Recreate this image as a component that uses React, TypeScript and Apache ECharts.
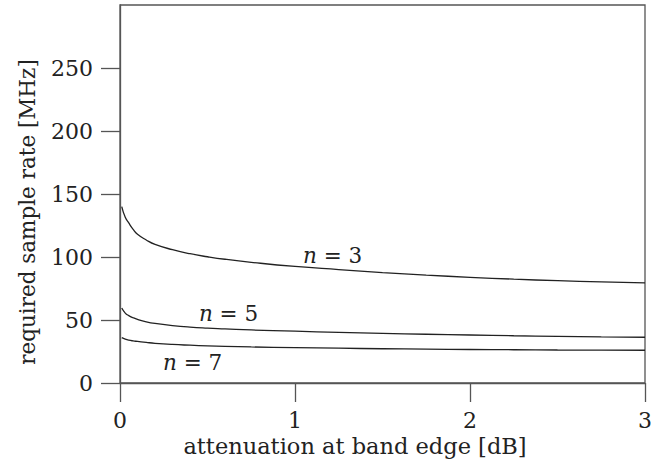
import React, { useEffect, useRef } from "react";
import * as echarts from "echarts";

// attenuation at band edge [dB]
const attenuation = [0.01, 0.03, 0.05, 0.075, 0.1, 0.15, 0.2, 0.3, 0.4, 0.5, 0.6, 0.75, 1.0, 1.25, 1.5, 1.75, 2.0, 2.25, 2.5, 2.75, 3.0];

// required sample rate [MHz] per filter order
const rateN3 = [140, 131.5, 127, 122, 118, 113.5, 110, 105.8, 102.6, 100.2, 98.2, 95.8, 92.5, 90, 87.6, 85.6, 83.9, 82.4, 81.2, 80.2, 79.5];
const rateN5 = [59.5, 55.5, 53.5, 51.8, 50.5, 48.6, 47.3, 45.6, 44.4, 43.6, 43, 42.1, 41.1, 40.2, 39.4, 38.7, 38.1, 37.5, 37, 36.6, 36.3];
const rateN7 = [36, 34.8, 34, 33.4, 33, 32.2, 31.5, 30.6, 30, 29.5, 29.1, 28.6, 28.1, 27.6, 27.2, 26.9, 26.6, 26.4, 26.2, 26.1, 26];

// curve label anchors [x, y] in data units
const labelN3 = [1.215, 100.8];
const labelN5 = [0.62, 55];
const labelN7 = [0.415, 16.5];

const xTicks = [0, 1, 2, 3];
const yTicks = [0, 50, 100, 150, 200, 250];

const FONT = "DejaVu Serif";
const AXIS_COLOR = "#555";
const LINE_COLOR = "#222";
const TEXT_COLOR = "#222";

function curve(name: string, ys: number[], label: number[], order: number) {
  return {
    name,
    type: "line",
    data: attenuation.map((x, i) => [x, ys[i]]),
    showSymbol: false,
    smooth: true,
    lineStyle: { color: LINE_COLOR, width: 1.3 },
    markPoint: {
      symbol: "circle",
      symbolSize: 0,
      itemStyle: { color: "transparent" },
      data: [{ coord: label }],
      label: {
        show: true,
        position: "inside",
        formatter: `{i|n} = ${order}`,
        color: TEXT_COLOR,
        fontFamily: FONT,
        fontSize: 21.5,
        rich: { i: { fontStyle: "italic", fontFamily: FONT, fontSize: 21.5, color: TEXT_COLOR } },
      },
    },
  };
}

export default function App() {
  const ref = useRef<HTMLDivElement>(null);

  useEffect(() => {
    if (!ref.current) return;
    const chart = echarts.init(ref.current, null, { renderer: "svg" });
    chart.setOption({
      animation: false,
      backgroundColor: "#fff",
      grid: {
        left: 120,
        right: 7,
        top: 5,
        bottom: 88,
        show: true,
        borderColor: AXIS_COLOR,
        borderWidth: 1.3,
      },
      xAxis: {
        type: "value",
        min: 0,
        max: 3,
        interval: 1,
        splitLine: { show: false },
        axisLine: { show: true, lineStyle: { color: AXIS_COLOR, width: 1.3 } },
        axisTick: { show: true, inside: false, length: 19, customValues: xTicks, lineStyle: { color: AXIS_COLOR, width: 1.3 } },
        axisLabel: { customValues: xTicks, margin: 26, color: TEXT_COLOR, fontFamily: FONT, fontSize: 22 },
      },
      yAxis: {
        type: "value",
        min: 0,
        max: 300,
        interval: 50,
        splitLine: { show: false },
        axisLine: { show: true, lineStyle: { color: AXIS_COLOR, width: 1.3 } },
        axisTick: { show: true, inside: false, length: 19, customValues: yTicks, lineStyle: { color: AXIS_COLOR, width: 1.3 } },
        axisLabel: { customValues: yTicks, margin: 27, color: TEXT_COLOR, fontFamily: FONT, fontSize: 22 },
      },
      graphic: [
        {
          type: "text",
          x: 355,
          y: 446,
          style: {
            text: "attenuation at band edge [dB]",
            fontFamily: FONT,
            fontSize: 22.5,
            fill: TEXT_COLOR,
            align: "center",
            verticalAlign: "middle",
          },
        },
        {
          type: "text",
          x: 27,
          y: 212,
          rotation: Math.PI / 2,
          style: {
            text: "required sample rate [MHz]",
            fontFamily: FONT,
            fontSize: 21.5,
            fill: TEXT_COLOR,
            align: "center",
            verticalAlign: "middle",
          },
        },
      ],
      series: [
        curve("n = 3", rateN3, labelN3, 3),
        curve("n = 5", rateN5, labelN5, 5),
        curve("n = 7", rateN7, labelN7, 7),
      ],
    });
    return () => chart.dispose();
  }, []);

  return <div ref={ref} style={{ position: "absolute", left: 0, top: 0, width: 655, height: 471 }} />;
}
